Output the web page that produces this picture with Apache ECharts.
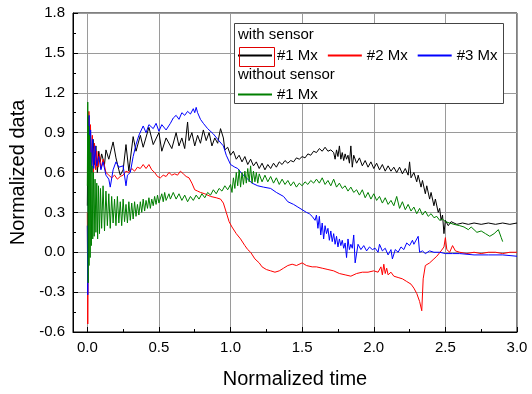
<!DOCTYPE html>
<html><head><meta charset="utf-8">
<script src="https://cdn.jsdelivr.net/npm/echarts@6/dist/echarts.min.js"></script>
<style>html,body{margin:0;padding:0;background:#fff}#c{width:532px;height:394px}</style>
</head><body><div id="c"></div>
<script>
const xMajorTicks = [0, 0.5, 1.0, 1.5, 2.0, 2.5, 3.0];
const xMinorTicks = [0.25, 0.75, 1.25, 1.75, 2.25, 2.75];
const seriesNames = ['with sensor #1 Mx', 'with sensor #2 Mx', 'with sensor #3 Mx', 'without sensor #1 Mx'];
const groupTitles = ['with sensor', 'without sensor'];

const black1 = [[0.00,0.35],[0.005,1.02],[0.012,0.70],[0.02,0.95],[0.03,0.62],[0.04,0.85],[0.05,0.66],[0.06,0.80],[0.07,0.60],[0.08,0.76],[0.09,0.68],[0.10,0.74],[0.12,0.66],[0.13,0.77],[0.15,0.70],[0.18,0.83],[0.20,0.71],[0.22,0.62],[0.23,0.58],[0.25,0.62],[0.27,0.81],[0.29,0.61],[0.32,0.87],[0.34,0.76],[0.37,0.88],[0.39,0.79],[0.43,0.94],[0.46,0.81],[0.50,0.90],[0.52,0.76],[0.55,0.86],[0.59,0.78],[0.62,0.90],[0.64,0.80],[0.66,0.86],[0.68,0.78],[0.70,0.98],[0.71,0.84],[0.73,0.90],[0.75,0.80],[0.77,0.88],[0.79,0.82],[0.81,0.92],[0.83,0.84],[0.85,0.90],[0.87,0.80],[0.89,0.86],[0.91,0.82],[0.93,0.93],[0.95,0.86],[0.96,0.77],[0.98,0.79],[1.00,0.73],[1.02,0.76],[1.04,0.70],[1.06,0.73],[1.08,0.68],[1.10,0.72],[1.12,0.66],[1.14,0.70],[1.16,0.65],[1.18,0.68],[1.20,0.63],[1.22,0.67],[1.24,0.62],[1.26,0.66],[1.28,0.63],[1.30,0.67],[1.32,0.64],[1.34,0.68],[1.36,0.66],[1.38,0.69],[1.40,0.67],[1.42,0.69],[1.44,0.68],[1.46,0.71],[1.48,0.70],[1.50,0.72],[1.52,0.71],[1.54,0.74],[1.56,0.73],[1.58,0.76],[1.60,0.75],[1.62,0.78],[1.64,0.76],[1.66,0.79],[1.68,0.76],[1.70,0.77],[1.72,0.75],[1.73,0.70],[1.74,0.77],[1.75,0.72],[1.76,0.80],[1.77,0.70],[1.78,0.75],[1.79,0.69],[1.80,0.74],[1.81,0.70],[1.82,0.73],[1.83,0.67],[1.84,0.80],[1.85,0.64],[1.86,0.73],[1.88,0.67],[1.90,0.71],[1.92,0.65],[1.94,0.69],[1.96,0.64],[1.98,0.68],[2.00,0.63],[2.02,0.67],[2.04,0.62],[2.06,0.66],[2.08,0.61],[2.10,0.65],[2.12,0.61],[2.14,0.64],[2.16,0.60],[2.18,0.64],[2.20,0.59],[2.22,0.63],[2.24,0.58],[2.25,0.68],[2.26,0.56],[2.28,0.60],[2.30,0.53],[2.31,0.58],[2.33,0.49],[2.34,0.54],[2.36,0.44],[2.37,0.50],[2.39,0.40],[2.40,0.45],[2.42,0.35],[2.43,0.40],[2.45,0.30],[2.46,0.33],[2.47,0.24],[2.48,0.28],[2.49,0.14],[2.50,0.24],[2.52,0.20],[2.54,0.23],[2.58,0.21],[2.62,0.22],[2.66,0.21],[2.70,0.22],[2.75,0.21],[2.80,0.22],[2.85,0.21],[2.90,0.22],[2.95,0.21],[3.00,0.22]];

const red2 = [[0.000,0.30],[0.003,-0.54],[0.007,0.10],[0.011,1.06],[0.016,0.70],[0.022,0.96],[0.028,0.62],[0.035,0.88],[0.042,0.60],[0.05,0.82],[0.058,0.62],[0.066,0.76],[0.075,0.64],[0.085,0.74],[0.095,0.63],[0.11,0.70],[0.13,0.60],[0.15,0.58],[0.17,0.56],[0.19,0.58],[0.21,0.55],[0.23,0.57],[0.25,0.58],[0.27,0.61],[0.29,0.60],[0.31,0.63],[0.33,0.61],[0.35,0.64],[0.37,0.63],[0.39,0.66],[0.41,0.63],[0.43,0.66],[0.45,0.62],[0.47,0.60],[0.49,0.57],[0.51,0.56],[0.53,0.58],[0.55,0.57],[0.57,0.60],[0.59,0.58],[0.61,0.59],[0.63,0.58],[0.65,0.61],[0.67,0.59],[0.69,0.57],[0.71,0.56],[0.73,0.52],[0.75,0.47],[0.77,0.46],[0.79,0.45],[0.82,0.44],[0.86,0.42],[0.90,0.41],[0.93,0.40],[0.95,0.37],[0.97,0.30],[0.99,0.23],[1.01,0.19],[1.04,0.14],[1.07,0.10],[1.10,0.05],[1.12,0.02],[1.14,0.00],[1.17,-0.05],[1.20,-0.08],[1.22,-0.11],[1.25,-0.13],[1.28,-0.14],[1.31,-0.15],[1.34,-0.14],[1.37,-0.12],[1.40,-0.10],[1.43,-0.09],[1.46,-0.10],[1.50,-0.08],[1.53,-0.10],[1.57,-0.11],[1.60,-0.11],[1.64,-0.12],[1.68,-0.13],[1.72,-0.14],[1.76,-0.16],[1.80,-0.17],[1.84,-0.18],[1.88,-0.16],[1.92,-0.15],[1.96,-0.15],[2.00,-0.14],[2.03,-0.15],[2.05,-0.11],[2.06,-0.17],[2.07,-0.09],[2.08,-0.16],[2.09,-0.12],[2.10,-0.17],[2.12,-0.15],[2.14,-0.18],[2.17,-0.19],[2.20,-0.20],[2.23,-0.22],[2.26,-0.24],[2.28,-0.27],[2.30,-0.31],[2.32,-0.37],[2.335,-0.44],[2.345,-0.20],[2.36,-0.10],[2.39,-0.08],[2.42,-0.05],[2.44,-0.03],[2.47,0.01],[2.49,0.04],[2.50,0.11],[2.51,0.02],[2.53,0.00],[2.55,0.05],[2.57,0.01],[2.60,0.00],[2.65,-0.01],[2.70,0.00],[2.75,-0.01],[2.80,0.00],[2.85,0.00],[2.90,-0.01],[2.95,0.00],[3.00,0.00]];

const blue3 = [[0.000,0.20],[0.003,-0.32],[0.007,0.40],[0.012,1.03],[0.017,0.70],[0.023,0.92],[0.03,0.60],[0.037,0.85],[0.045,0.63],[0.055,0.80],[0.065,0.65],[0.08,0.72],[0.095,0.62],[0.11,0.68],[0.13,0.58],[0.15,0.55],[0.16,0.49],[0.18,0.62],[0.20,0.68],[0.22,0.64],[0.25,0.65],[0.27,0.50],[0.28,0.58],[0.30,0.60],[0.32,0.72],[0.34,0.81],[0.36,0.88],[0.39,0.95],[0.41,0.90],[0.43,0.96],[0.46,0.93],[0.48,0.97],[0.50,0.91],[0.52,0.96],[0.53,0.97],[0.55,0.92],[0.56,0.91],[0.58,0.97],[0.60,1.01],[0.62,1.03],[0.64,1.00],[0.66,1.05],[0.68,1.03],[0.70,1.06],[0.72,1.04],[0.74,1.08],[0.75,1.05],[0.76,1.09],[0.77,1.05],[0.79,1.00],[0.81,0.97],[0.84,0.93],[0.88,0.89],[0.91,0.85],[0.95,0.80],[0.97,0.73],[1.00,0.66],[1.03,0.64],[1.05,0.63],[1.08,0.59],[1.12,0.55],[1.15,0.52],[1.19,0.50],[1.23,0.49],[1.28,0.48],[1.32,0.45],[1.37,0.42],[1.40,0.38],[1.44,0.36],[1.47,0.34],[1.50,0.32],[1.53,0.30],[1.55,0.29],[1.57,0.27],[1.59,0.24],[1.60,0.28],[1.61,0.18],[1.62,0.27],[1.63,0.13],[1.64,0.22],[1.65,0.10],[1.66,0.20],[1.67,0.14],[1.68,0.18],[1.69,0.09],[1.70,0.16],[1.71,0.08],[1.72,0.14],[1.73,0.06],[1.74,0.12],[1.75,0.04],[1.76,0.10],[1.77,0.05],[1.78,0.09],[1.79,0.03],[1.80,0.07],[1.81,-0.04],[1.82,0.10],[1.83,0.02],[1.84,0.06],[1.85,0.03],[1.86,0.13],[1.87,-0.08],[1.89,0.06],[1.91,0.02],[1.93,0.05],[1.95,0.01],[1.97,0.04],[1.99,0.02],[2.01,0.03],[2.03,0.00],[2.04,0.06],[2.06,0.01],[2.08,0.03],[2.10,-0.02],[2.12,0.02],[2.13,-0.05],[2.15,0.02],[2.17,0.00],[2.19,0.04],[2.21,0.02],[2.23,0.07],[2.25,0.05],[2.27,0.09],[2.28,0.06],[2.30,0.10],[2.31,0.12],[2.32,0.00],[2.34,0.01],[2.36,-0.01],[2.39,0.01],[2.42,0.00],[2.46,0.00],[2.50,-0.01],[2.55,-0.01],[2.60,-0.01],[2.70,-0.02],[2.80,-0.02],[2.90,-0.02],[3.00,-0.03]];

const green1 = [[0.000,0.50],[0.003,1.13],[0.006,-0.23],[0.009,0.95],[0.012,-0.10],[0.016,0.88],[0.02,-0.04],[0.024,0.75],[0.028,0.05],[0.033,0.65],[0.038,0.10],[0.043,0.60],[0.048,0.12],[0.054,0.55],[0.06,0.15],[0.066,0.52],[0.072,0.10],[0.078,0.50],[0.085,0.14],[0.092,0.48],[0.10,0.18],[0.11,0.50],[0.12,0.16],[0.13,0.46],[0.14,0.20],[0.15,0.44],[0.16,0.18],[0.17,0.42],[0.18,0.22],[0.19,0.40],[0.20,0.20],[0.21,0.42],[0.22,0.22],[0.23,0.38],[0.24,0.20],[0.25,0.40],[0.26,0.23],[0.27,0.36],[0.28,0.22],[0.29,0.38],[0.30,0.24],[0.31,0.37],[0.32,0.25],[0.33,0.38],[0.34,0.27],[0.35,0.36],[0.36,0.28],[0.37,0.38],[0.38,0.30],[0.39,0.40],[0.40,0.31],[0.41,0.39],[0.42,0.33],[0.43,0.41],[0.44,0.33],[0.45,0.40],[0.46,0.35],[0.47,0.42],[0.48,0.36],[0.49,0.43],[0.50,0.37],[0.52,0.44],[0.53,0.38],[0.54,0.45],[0.55,0.39],[0.57,0.44],[0.58,0.40],[0.60,0.45],[0.62,0.40],[0.64,0.44],[0.66,0.39],[0.68,0.43],[0.70,0.38],[0.72,0.42],[0.74,0.39],[0.76,0.43],[0.78,0.40],[0.80,0.44],[0.82,0.41],[0.84,0.45],[0.86,0.43],[0.88,0.47],[0.90,0.44],[0.92,0.48],[0.94,0.46],[0.96,0.50],[0.98,0.47],[1.00,0.51],[1.01,0.45],[1.02,0.56],[1.03,0.48],[1.04,0.60],[1.05,0.50],[1.06,0.62],[1.07,0.49],[1.08,0.60],[1.09,0.51],[1.10,0.61],[1.11,0.52],[1.12,0.63],[1.13,0.53],[1.14,0.65],[1.15,0.52],[1.16,0.61],[1.17,0.53],[1.18,0.60],[1.19,0.52],[1.20,0.59],[1.22,0.53],[1.24,0.58],[1.26,0.53],[1.28,0.57],[1.30,0.52],[1.32,0.56],[1.34,0.51],[1.36,0.55],[1.38,0.51],[1.40,0.54],[1.42,0.50],[1.44,0.53],[1.46,0.49],[1.48,0.52],[1.50,0.50],[1.52,0.53],[1.54,0.51],[1.56,0.54],[1.58,0.52],[1.60,0.55],[1.62,0.52],[1.64,0.56],[1.66,0.51],[1.68,0.54],[1.70,0.50],[1.72,0.55],[1.74,0.49],[1.76,0.52],[1.78,0.48],[1.80,0.50],[1.82,0.46],[1.84,0.49],[1.86,0.45],[1.88,0.47],[1.90,0.43],[1.92,0.47],[1.94,0.41],[1.96,0.45],[1.98,0.40],[2.00,0.44],[2.02,0.39],[2.04,0.42],[2.06,0.37],[2.08,0.41],[2.10,0.36],[2.12,0.39],[2.14,0.35],[2.16,0.42],[2.18,0.33],[2.20,0.38],[2.22,0.32],[2.24,0.36],[2.26,0.31],[2.28,0.34],[2.30,0.29],[2.32,0.33],[2.34,0.28],[2.36,0.31],[2.38,0.27],[2.40,0.29],[2.42,0.26],[2.44,0.27],[2.46,0.24],[2.48,0.25],[2.50,0.23],[2.53,0.22],[2.56,0.21],[2.60,0.20],[2.63,0.19],[2.66,0.17],[2.68,0.19],[2.70,0.17],[2.72,0.15],[2.75,0.16],[2.78,0.14],[2.81,0.12],[2.84,0.14],[2.87,0.17],[2.89,0.11],[2.90,0.08]];

const FONT = "'Liberation Sans', Arial, sans-serif";
const colors = ['#000000', '#ff0000', '#0000ff', '#007f00'];
const datasets = [black1, red2, blue3, green1];

const chart = echarts.init(document.getElementById('c'), null, {renderer: 'canvas'});
const gridColor = '#9a9a9a';
const legendCommon = {
  orient: 'horizontal', padding: 0,
  itemWidth: 34, itemHeight: 14, itemGap: 9, selectedMode: false,
  itemStyle: {opacity: 0},
  textStyle: {fontFamily: FONT, fontSize: 15, color: '#000'},
  formatter: n => n.replace(/^.*sensor /, ''), z: 6
};
const option = {
  animation: false,
  backgroundColor: '#fff',
  grid: {left: 73, right: 15, top: 13, bottom: 61, show: true, borderColor: '#000', borderWidth: 1, backgroundColor: 'transparent'},
  xAxis: [{
    type: 'value', min: -0.1, max: 3.0, position: 'bottom',
    name: 'Normalized time', nameLocation: 'middle', nameGap: 37,
    nameTextStyle: {fontFamily: FONT, fontSize: 20, color: '#000'},
    axisLine: {show: true, onZero: false, lineStyle: {color: '#000', width: 1}},
    axisTick: {show: true, inside: true, length: 5, customValues: xMajorTicks, lineStyle: {color: '#000'}},
    axisLabel: {show: true, customValues: xMajorTicks, margin: 8, fontFamily: FONT, fontSize: 15, color: '#000', formatter: v => v.toFixed(1)},
    splitLine: {show: true, lineStyle: {color: gridColor, width: 1}}
  }, {
    type: 'value', min: -0.1, max: 3.0, position: 'bottom',
    axisLine: {show: false, onZero: false},
    axisTick: {show: true, inside: true, length: 3, customValues: xMinorTicks, lineStyle: {color: '#000'}},
    axisLabel: {show: false},
    splitLine: {show: false}
  }],
  yAxis: {
    type: 'value', min: -0.6, max: 1.8, interval: 0.3, position: 'left',
    name: 'Normalized data', nameLocation: 'middle', nameGap: 36,
    nameTextStyle: {fontFamily: FONT, fontSize: 20, color: '#000'},
    axisLine: {show: true, onZero: false, lineStyle: {color: '#000', width: 1}},
    axisTick: {show: true, inside: true, length: 5, lineStyle: {color: '#000'}},
    minorTick: {show: true, splitNumber: 2, length: 3, lineStyle: {color: '#000'}},
    axisLabel: {margin: 8, fontFamily: FONT, fontSize: 15, color: '#000', formatter: v => v.toFixed(1)},
    splitLine: {show: true, lineStyle: {color: gridColor, width: 1}}
  },
  legend: [
    Object.assign({data: seriesNames.slice(0, 3), left: 237, top: 48}, legendCommon),
    Object.assign({data: seriesNames.slice(3), left: 237, top: 87}, legendCommon)
  ],
  graphic: [
    {type: 'rect', left: 234, top: 23, shape: {width: 269, height: 80}, style: {fill: '#fff', stroke: '#444', lineWidth: 1}, z: 5},
    {type: 'rect', left: 237, top: 45, shape: {width: 35, height: 19}, style: {fill: 'none', stroke: '#e00000', lineWidth: 1}, z: 7},
    {type: 'text', left: 238, top: 27, style: {text: groupTitles[0], font: '15px ' + FONT, fill: '#000'}, z: 7},
    {type: 'text', left: 238, top: 67, style: {text: groupTitles[1], font: '15px ' + FONT, fill: '#000'}, z: 7}
  ],
  series: seriesNames.map((n, i) => ({
    name: n, type: 'line', data: datasets[i], xAxisIndex: 0,
    showSymbol: false, symbol: 'none', silent: true, clip: true,
    lineStyle: {color: colors[i], width: 1}, itemStyle: {color: colors[i]}, z: 2
  }))
};
chart.setOption(option);
</script></body></html>
